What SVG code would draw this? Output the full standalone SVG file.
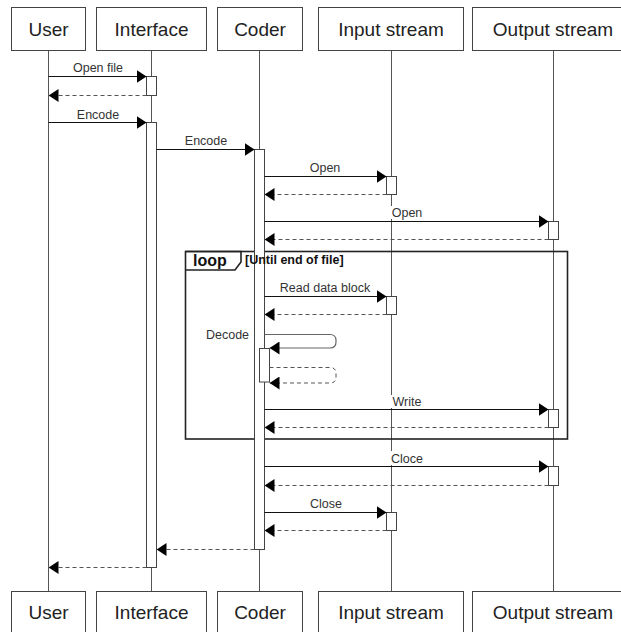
<svg xmlns="http://www.w3.org/2000/svg" width="621" height="632" viewBox="0 0 621 632">
<style>
.box{fill:#fff;stroke:#444;stroke-width:1}
.hd{font-family:"Liberation Sans",Arial,sans-serif;font-size:19px;fill:#222;text-anchor:middle}
.life{stroke:#555;stroke-width:1;fill:none}
.act{fill:#fff;stroke:#444;stroke-width:1}
.msg{stroke:#111;stroke-width:1;fill:none;marker-end:url(#arr)}
.ret{stroke:#555;stroke-width:1;fill:none;stroke-dasharray:4,3;marker-end:url(#arr)}
.self{stroke:#666;stroke-width:1.2;fill:none;marker-end:url(#arr)}
.lbl{font-family:"Liberation Sans",Arial,sans-serif;font-size:12.5px;fill:#333;text-anchor:middle}
.bg{fill:#fff}
.frame{fill:none;stroke:#222;stroke-width:1.6}
.fl{font-family:"Liberation Sans",Arial,sans-serif;font-weight:bold;fill:#111}
</style>
<defs>
<marker id="arr" viewBox="0 0 10 13" refX="10" refY="6.5" markerWidth="10" markerHeight="13" markerUnits="userSpaceOnUse" orient="auto">
<path d="M0,0 L10,6.5 L0,13 z" fill="#000" stroke="none"/>
</marker>
</defs>
<rect width="621" height="632" fill="#fff"/>
<g id="lifelines">
<line class="life" x1="48.5" y1="50" x2="48.5" y2="591"/>
<line class="life" x1="151.5" y1="50" x2="151.5" y2="591"/>
<line class="life" x1="259.5" y1="50" x2="259.5" y2="591"/>
<line class="life" x1="391.5" y1="50" x2="391.5" y2="591"/>
<line class="life" x1="553.5" y1="50" x2="553.5" y2="591"/>
</g>
<g id="frame-loop-box">
<rect class="frame" x="185.5" y="251.5" width="382" height="187.5"/>
<path class="frame" d="M185.5,251.5 H241 V262 L235,270 H185.5"/>
</g>
<g id="node-user">
<rect class="box" x="11.5" y="7.5" width="74" height="43"/>
<text class="hd" x="48.5" y="35.5">User</text>
<rect class="box" x="11.5" y="591.5" width="74" height="43"/>
<text class="hd" x="48.5" y="619">User</text>
</g>
<g id="node-interface">
<rect class="box" x="96.5" y="7.5" width="110" height="43"/>
<text class="hd" x="151.5" y="35.5">Interface</text>
<rect class="box" x="96.5" y="591.5" width="110" height="43"/>
<text class="hd" x="151.5" y="619">Interface</text>
</g>
<g id="node-coder">
<rect class="box" x="217.5" y="7.5" width="85" height="43"/>
<text class="hd" x="260" y="35.5">Coder</text>
<rect class="box" x="217.5" y="591.5" width="85" height="43"/>
<text class="hd" x="260" y="619">Coder</text>
</g>
<g id="node-input">
<rect class="box" x="318.5" y="7.5" width="145" height="43"/>
<text class="hd" x="391" y="35.5">Input stream</text>
<rect class="box" x="318.5" y="591.5" width="145" height="43"/>
<text class="hd" x="391" y="619">Input stream</text>
</g>
<g id="node-output">
<rect class="box" x="472.5" y="7.5" width="162" height="43"/>
<text class="hd" x="553" y="35.5">Output stream</text>
<rect class="box" x="472.5" y="591.5" width="162" height="43"/>
<text class="hd" x="553" y="619">Output stream</text>
</g>
<g id="activations">
<rect class="act" x="146.5" y="76.5" width="10" height="19"/>
<rect class="act" x="146.5" y="122.5" width="10" height="445"/>
<rect class="act" x="254.5" y="149.5" width="10" height="400"/>
<rect class="act" x="386.5" y="176.5" width="10" height="18"/>
<rect class="act" x="548.5" y="221.5" width="10" height="18"/>
<rect class="act" x="386.5" y="296.5" width="10" height="18"/>
<rect class="act" x="259.5" y="348.5" width="10" height="33.5"/>
<rect class="act" x="548.5" y="409.5" width="10" height="18"/>
<rect class="act" x="548.5" y="466.5" width="10" height="19"/>
<rect class="act" x="386.5" y="512.5" width="10" height="18"/>
</g>
<g id="frame-loop-label">
<text class="fl" x="193" y="266" font-size="16">loop</text>
<text class="fl" x="245" y="264" font-size="12.5">[Until end of file]</text>
</g>
<g id="connectors">
<path class="msg" d="M48.5,76.5 H146.5"/>
<path class="ret" d="M146.5,95.5 H48.5"/>
<path class="msg" d="M48.5,122.5 H146.5"/>
<path class="msg" d="M156.5,149.5 H254.5"/>
<path class="msg" d="M264.5,176.5 H386.5"/>
<path class="ret" d="M386.5,194.5 H264.5"/>
<path class="msg" d="M264.5,221.5 H548.5"/>
<path class="ret" d="M548.5,239.5 H264.5"/>
<path class="msg" d="M264.5,296.5 H386.5"/>
<path class="ret" d="M386.5,314.5 H264.5"/>
<path class="self" d="M264.5,334.5 H330 Q336,334.5 336,340.5 V342 Q336,348 330,348 H269.5"/>
<path class="ret" d="M269.5,367.5 H330 Q336,367.5 336,373.5 V377 Q336,383 330,383 H269.5"/>
<path class="msg" d="M264.5,409.5 H548.5"/>
<path class="ret" d="M548.5,427.5 H264.5"/>
<path class="msg" d="M264.5,466.5 H548.5"/>
<path class="ret" d="M548.5,485.5 H264.5"/>
<path class="msg" d="M264.5,512.5 H386.5"/>
<path class="ret" d="M386.5,530.5 H264.5"/>
<path class="ret" d="M254.5,549.5 H156.5"/>
<path class="ret" d="M146.5,567.5 H48.5"/>
</g>
<g id="labels">
<text class="lbl" x="98" y="72">Open file</text>
<text class="lbl" x="98" y="118.5">Encode</text>
<text class="lbl" x="206" y="145">Encode</text>
<text class="lbl" x="325" y="172">Open</text>
<rect class="bg" x="391" y="206" width="32" height="13"/>
<text class="lbl" x="407" y="217">Open</text>
<text class="lbl" x="325" y="292">Read data block</text>
<text class="lbl" x="227.5" y="339">Decode</text>
<rect class="bg" x="390" y="395" width="34" height="13"/>
<text class="lbl" x="407" y="406">Write</text>
<rect class="bg" x="389" y="451" width="36" height="14"/>
<text class="lbl" x="407" y="462.5">Cloce</text>
<text class="lbl" x="326" y="508">Close</text>
</g>
</svg>
